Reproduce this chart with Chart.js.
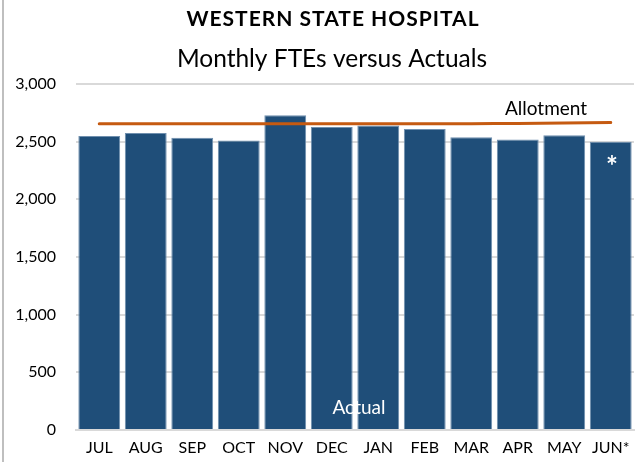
<!DOCTYPE html>
<html><head><meta charset="utf-8">
<script src="https://cdn.jsdelivr.net/npm/chart.js@4"></script>
<style>
html,body{margin:0;padding:0;background:#fff;}
#wrap{position:relative;width:642px;height:462px;}
</style></head>
<body><div id="wrap"><canvas id="c" width="642" height="462"></canvas></div>
<script>
const categories = ["JUL","AUG","SEP","OCT","NOV","DEC","JAN","FEB","MAR","APR","MAY","JUN*"];
const actualFTEs = [2550,2575,2533,2510,2730,2628,2640,2610,2538,2518,2555,2500];
const allotment = [2655,2655,2655,2655,2655,2655,2655,2655,2656,2658,2661,2667];
const yTicks = [0,500,1000,1500,2000,2500,3000];
const titleText = "WESTERN STATE HOSPITAL";
const subtitleText = "Monthly FTEs versus Actuals";
const FONT = "Lato, 'Open Sans', sans-serif";

const decor = {
  id:'decor',
  beforeDraw(chart){
    const ctx = chart.ctx;
    ctx.save();
    ctx.fillStyle = '#fff';
    ctx.fillRect(0,0,chart.width,chart.height);
    ctx.fillStyle = '#bfbfbf';
    ctx.fillRect(2,0,2,chart.height);
    ctx.restore();
  },
  afterDraw(chart){
    const ctx = chart.ctx;
    ctx.save();
    ctx.textAlign = 'center';
    ctx.textBaseline = 'alphabetic';
    ctx.fillStyle = '#000';
    ctx.font = "bold 21px " + FONT;
    try { ctx.letterSpacing = '1px'; } catch(e) {}
    ctx.fillText(titleText, 333, 26);
    try { ctx.letterSpacing = '0px'; } catch(e) {}
    ctx.font = "24.5px " + FONT;
    ctx.fillText(subtitleText, 332, 67);
    ctx.font = "19px " + FONT;
    ctx.fillStyle = '#000';
    ctx.fillText("Allotment", 546, 115);
    ctx.fillStyle = '#fff';
    ctx.fillText("Actual", 359, 414);
    ctx.font = "bold 28px " + FONT;
    ctx.fillText("*", 612, 176);
    ctx.restore();
  }
};

new Chart(document.getElementById('c'), {
  data: {
    labels: categories,
    datasets: [
      { type:'line', label:'Allotment', data: allotment, borderColor:'#C55A11', borderWidth:3,
        pointRadius:0, borderCapStyle:'round', tension:0.3, order:0 },
      { type:'bar', label:'Actual', data: actualFTEs, backgroundColor:'#1F4E79',
        borderColor:'#6f8fae', borderWidth:{top:1,left:1,right:1,bottom:0},
        barPercentage:0.9, categoryPercentage:1.0, order:1 }
    ]
  },
  options: {
    responsive:false, animation:false,
    layout:{ padding:{ top:84, right:8, left:0, bottom:2 } },
    plugins:{ legend:{display:false}, tooltip:{enabled:false} },
    scales:{
      x:{
        grid:{ display:false, drawTicks:false },
        border:{ display:true, color:'#d9d9d9', width:2 },
        ticks:{ color:'#000', font:{ family:FONT, size:16 }, padding:8, maxRotation:0, autoSkip:false },
        afterFit(s){ s.height = 30; }
      },
      y:{
        min:0, max:3000,
        afterBuildTicks(s){ s.ticks = yTicks.map(v=>({value:v})); },
        grid:{ color:'#d9d9d9', lineWidth:2, drawTicks:false },
        border:{ display:false },
        ticks:{ color:'#000', font:{ family:FONT, size:16 }, padding:20,
          callback:(v)=> v.toLocaleString('en-US') },
        afterFit(s){ s.width = 76; }
      }
    }
  },
  plugins:[decor]
});
</script></body></html>
